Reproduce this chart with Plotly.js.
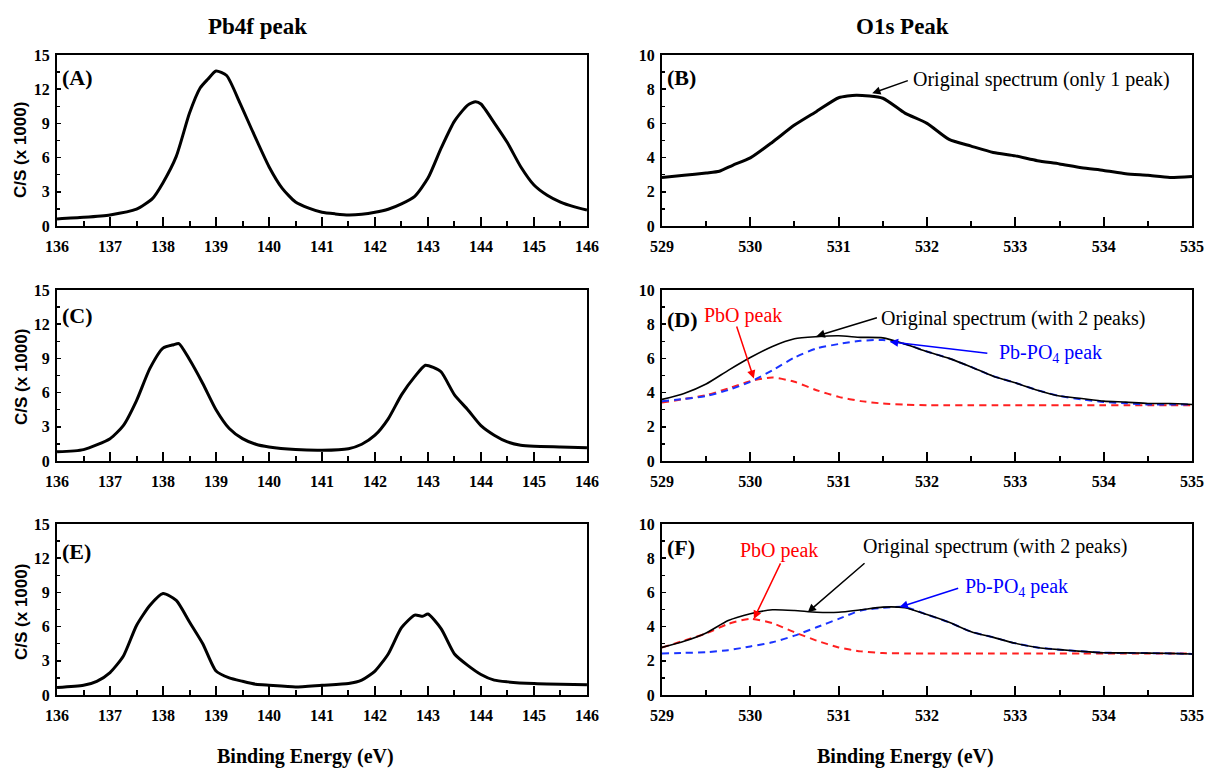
<!DOCTYPE html>
<html>
<head>
<meta charset="utf-8">
<script src="https://cdn.plot.ly/plotly-3.0.1.min.js"></script>
<style>body{margin:0;background:#fff}#chart{width:1206px;height:771px}</style>
</head>
<body>
<div id="chart"></div>
<script>
// ---- Pb4f panels (A, C, E) ----
const pbA_E = [136,136.5,137,137.5,137.8,138,138.25,138.5,138.7,138.85,139,139.2,139.45,139.7,140,140.25,140.5,140.75,141,141.25,141.5,141.75,142,142.25,142.5,142.75,143,143.25,143.5,143.75,143.9,144,144.25,144.5,144.75,145,145.25,145.5,145.75,146];
const pbA_I = [0.62,0.76,0.97,1.47,2.4,3.8,6.1,9.9,12.1,12.9,13.6,13.2,10.8,8.2,5.2,3.3,2.1,1.56,1.2,1.06,0.97,1.03,1.2,1.47,1.94,2.6,4.2,6.85,9.2,10.6,10.9,10.7,9.05,7.3,5.2,3.6,2.7,2.1,1.7,1.4];

const pbC_E = [136,136.5,137,137.25,137.5,137.75,138,138.2,138.3,138.5,138.75,139,139.25,139.5,139.75,140,140.5,141,141.5,141.75,142,142.25,142.5,142.75,142.95,143.1,143.25,143.5,143.75,144,144.25,144.5,144.75,145,145.5,146];
const pbC_I = [0.8,1.0,1.96,3.1,5.3,8.1,9.9,10.2,10.3,8.9,6.8,4.5,2.85,1.96,1.47,1.23,1.0,0.94,1.08,1.47,2.26,3.7,5.8,7.4,8.4,8.2,7.8,5.8,4.5,3.1,2.26,1.67,1.38,1.29,1.23,1.17];

const pbE_E = [136,136.5,136.75,137,137.25,137.5,137.75,138,138.25,138.5,138.75,139,139.25,139.5,139.75,140,140.5,141,141.5,141.75,142,142.25,142.5,142.75,142.9,143,143.25,143.5,143.75,144,144.25,144.5,145,145.5,146];
const pbE_I = [0.65,0.85,1.2,1.97,3.4,6.1,7.85,8.9,8.3,6.4,4.5,2.1,1.5,1.2,0.94,0.85,0.7,0.85,1.0,1.3,2.1,3.6,5.9,7.0,6.9,7.1,5.8,3.6,2.6,1.8,1.3,1.15,1.0,0.94,0.9];

// ---- O1s panels (B, D, F) ----
const o1B_E = [529,529.25,529.5,529.65,529.8,530,530.25,530.5,530.75,531,531.2,531.5,531.75,532,532.25,532.5,532.75,533,533.25,533.5,533.75,534,534.25,534.5,534.75,535];
const o1B_I = [2.84,2.96,3.1,3.2,3.55,3.98,4.9,5.9,6.7,7.5,7.65,7.47,6.6,6.0,5.06,4.67,4.3,4.1,3.82,3.63,3.4,3.25,3.06,2.96,2.84,2.9];

const o1_E = [529,529.25,529.5,529.75,530,530.25,530.5,530.75,531,531.25,531.5,531.75,532,532.25,532.5,532.75,533,533.25,533.5,533.75,534,534.25,534.5,534.75,535];
const o1D_orig  = [3.6,3.95,4.5,5.3,6.05,6.7,7.15,7.27,7.32,7.23,7.2,6.84,6.4,6.0,5.5,4.96,4.57,4.14,3.8,3.65,3.5,3.44,3.36,3.36,3.3];
const o1D_PbO   = [3.42,3.62,3.85,4.24,4.67,4.88,4.63,4.14,3.75,3.5,3.36,3.3,3.26,3.26,3.26,3.26,3.26,3.26,3.26,3.26,3.26,3.26,3.26,3.26,3.26];
const o1D_PbPO4 = [3.5,3.63,3.8,4.15,4.63,5.3,6.05,6.58,6.84,7.03,7.07,6.84,6.4,6.0,5.5,4.96,4.57,4.14,3.8,3.6,3.45,3.38,3.3,3.3,3.3];

const o1F_orig  = [2.78,3.14,3.63,4.35,4.75,4.98,4.94,4.84,4.84,4.98,5.14,5.1,4.7,4.25,3.7,3.37,3.02,2.78,2.65,2.55,2.47,2.46,2.45,2.43,2.4];
const o1F_PbO   = [2.78,3.18,3.6,4.16,4.45,4.2,3.67,3.18,2.78,2.55,2.45,2.43,2.43,2.43,2.43,2.43,2.43,2.43,2.43,2.43,2.43,2.43,2.43,2.43,2.43];
const o1F_PbPO4 = [2.43,2.46,2.5,2.62,2.84,3.08,3.47,3.96,4.45,4.94,5.1,5.14,4.7,4.25,3.7,3.37,3.02,2.78,2.65,2.55,2.47,2.46,2.45,2.43,2.4];

// ---- text ----
const columnTitles = ['Pb4f peak', 'O1s Peak'];
const panelLabels = ['(A)', '(B)', '(C)', '(D)', '(E)', '(F)'];
const yTitle = 'C/S (x 1000)';
const xTitle = 'Binding Energy (eV)';

const SERIF = 'Liberation Serif, Times New Roman, serif';
const SANS = 'Liberation Sans, Arial, sans-serif';

function solid(x, y, xa, ya, w) {
  return {x: x, y: y, xaxis: xa, yaxis: ya, type: 'scatter', mode: 'lines',
          line: {color: '#000', width: w, shape: 'spline', smoothing: 0.6}, hoverinfo: 'skip'};
}
function dashed(x, y, xa, ya, c) {
  return {x: x, y: y, xaxis: xa, yaxis: ya, type: 'scatter', mode: 'lines',
          line: {color: c, width: 2, dash: '7px,5px', shape: 'spline', smoothing: 0.6}, hoverinfo: 'skip'};
}

const data = [
  solid(pbA_E, pbA_I, 'x', 'y', 3),
  solid(o1B_E, o1B_I, 'x2', 'y2', 3),
  solid(pbC_E, pbC_I, 'x3', 'y3', 3),
  dashed(o1_E, o1D_PbO, 'x4', 'y4', '#ff2020'),
  dashed(o1_E, o1D_PbPO4, 'x4', 'y4', '#1a33ff'),
  solid(o1_E, o1D_orig, 'x4', 'y4', 1.6),
  solid(pbE_E, pbE_I, 'x5', 'y5', 3),
  dashed(o1_E, o1F_PbO, 'x6', 'y6', '#ff2020'),
  dashed(o1_E, o1F_PbPO4, 'x6', 'y6', '#1a33ff'),
  solid(o1_E, o1F_orig, 'x6', 'y6', 1.6)
];

const colL = [0.0473, 0.4867], colR = [0.5489, 0.9884];
const rows = [[0.7069, 0.9287], [0.4021, 0.6239], [0.0986, 0.3204]];
const tickFont = {family: SERIF, size: 16, color: '#000', weight: 'bold'};

function xax(domain, range, anchor) {
  return {domain: domain, range: range, anchor: anchor, dtick: 1, tick0: 0,
    showline: true, linewidth: 2, linecolor: '#000', mirror: true,
    ticks: 'inside', ticklen: 9, tickwidth: 2, tickcolor: '#000',
    minor: {ticks: 'inside', ticklen: 5, tickwidth: 2, tickcolor: '#000', dtick: 0.5, showgrid: false},
    showgrid: false, zeroline: false, tickfont: tickFont, ticklabelstandoff: 5, fixedrange: true};
}
function yax(domain, range, anchor, dt) {
  return {domain: domain, range: range, anchor: anchor, dtick: dt, tick0: 0,
    showline: true, linewidth: 2, linecolor: '#000', mirror: true,
    ticks: 'inside', ticklen: 4, tickwidth: 1.5, tickcolor: '#000',
    minor: {ticks: 'inside', ticklen: 3, tickwidth: 1.5, tickcolor: '#000', dtick: dt / 2, showgrid: false},
    showgrid: false, zeroline: false, tickfont: tickFont, ticklabelstandoff: 2, fixedrange: true};
}

const layout = {
  width: 1206, height: 771, margin: {l: 0, r: 0, t: 0, b: 0},
  paper_bgcolor: '#fff', plot_bgcolor: '#fff', showlegend: false,
  xaxis:  xax(colL, [136, 146], 'y'),  yaxis:  yax(rows[0], [0, 15], 'x', 3),
  xaxis2: xax(colR, [529, 535], 'y2'), yaxis2: yax(rows[0], [0, 10], 'x2', 2),
  xaxis3: xax(colL, [136, 146], 'y3'), yaxis3: yax(rows[1], [0, 15], 'x3', 3),
  xaxis4: xax(colR, [529, 535], 'y4'), yaxis4: yax(rows[1], [0, 10], 'x4', 2),
  xaxis5: xax(colL, [136, 146], 'y5'), yaxis5: yax(rows[2], [0, 15], 'x5', 3),
  xaxis6: xax(colR, [529, 535], 'y6'), yaxis6: yax(rows[2], [0, 10], 'x6', 2),
  annotations: []
};

const A = layout.annotations;
function paperText(px, py, text, font, angle) {
  A.push({xref: 'paper', yref: 'paper', x: px / 1206, y: 1 - py / 771, xanchor: 'center', yanchor: 'middle',
    text: text, showarrow: false, textangle: angle || 0, font: font});
}
// column titles
paperText(257, 27, columnTitles[0], {family: SERIF, size: 23, color: '#000', weight: 'bold'});
paperText(902, 27, columnTitles[1], {family: SERIF, size: 23, color: '#000', weight: 'bold'});
// x titles
paperText(305, 756, xTitle, {family: SERIF, size: 20, color: '#000', weight: 'bold'});
paperText(905, 756, xTitle, {family: SERIF, size: 20, color: '#000', weight: 'bold'});
// y titles
[150, 377, 612].forEach(function (py) {
  paperText(21, py, yTitle, {family: SANS, size: 17, color: '#000', weight: 'bold'}, -90);
});
// panel labels
const axIds = ['', '2', '3', '4', '5', '6'];
const labelY = [0.87, 0.87, 0.85, 0.83, 0.84, 0.86];
panelLabels.forEach(function (t, i) {
  A.push({xref: 'x' + axIds[i] + ' domain', yref: 'y' + axIds[i] + ' domain', x: 0.006, y: labelY[i],
    xanchor: 'left', yanchor: 'middle', text: t, showarrow: false,
    font: {family: SERIF, size: 22, color: '#000', weight: 'bold'}});
});

function label(xa, ya, x, y, text, color) {
  A.push({xref: xa, yref: ya, x: x, y: y, xanchor: 'left', yanchor: 'middle', text: text, showarrow: false,
    font: {family: SERIF, size: 20, color: color}});
}
function arrow(xa, ya, tx, ty, hx, hy, color) {
  A.push({xref: xa, yref: ya, axref: xa, ayref: ya, x: hx, y: hy, ax: tx, ay: ty, text: '',
    showarrow: true, arrowhead: 2, arrowsize: 1.1, arrowwidth: 1.5, arrowcolor: color, standoff: 0, startstandoff: 0});
}
const PO4 = 'Pb-PO<sub>4</sub> peak';
// B
label('x2', 'y2', 531.82, 8.59, 'Original spectrum (only 1 peak)', '#000');
arrow('x2', 'y2', 531.8, 8.53, 531.38, 7.76, '#000');
// D
label('x4', 'y4', 531.46, 8.34, 'Original spectrum (with 2 peaks)', '#000');
arrow('x4', 'y4', 531.45, 8.4, 530.75, 7.3, '#000');
label('x4', 'y4', 529.45, 8.53, 'PbO peak', '#ff0000');
arrow('x4', 'y4', 529.84, 7.95, 530.04, 4.82, '#ff0000');
label('x4', 'y4', 532.79, 6.29, PO4, '#0000ff');
arrow('x4', 'y4', 532.7, 6.29, 531.58, 6.97, '#0000ff');
// F
label('x6', 'y6', 529.86, 8.47, 'PbO peak', '#ff0000');
arrow('x6', 'y6', 530.35, 7.78, 530.04, 4.45, '#ff0000');
label('x6', 'y6', 531.25, 8.67, 'Original spectrum (with 2 peaks)', '#000');
arrow('x6', 'y6', 531.31, 7.78, 530.65, 4.84, '#000');
label('x6', 'y6', 532.41, 6.27, PO4, '#0000ff');
arrow('x6', 'y6', 532.37, 6.27, 531.69, 5.14, '#0000ff');

Plotly.newPlot('chart', data, layout, {staticPlot: true, displayModeBar: false});
</script>
</body>
</html>
